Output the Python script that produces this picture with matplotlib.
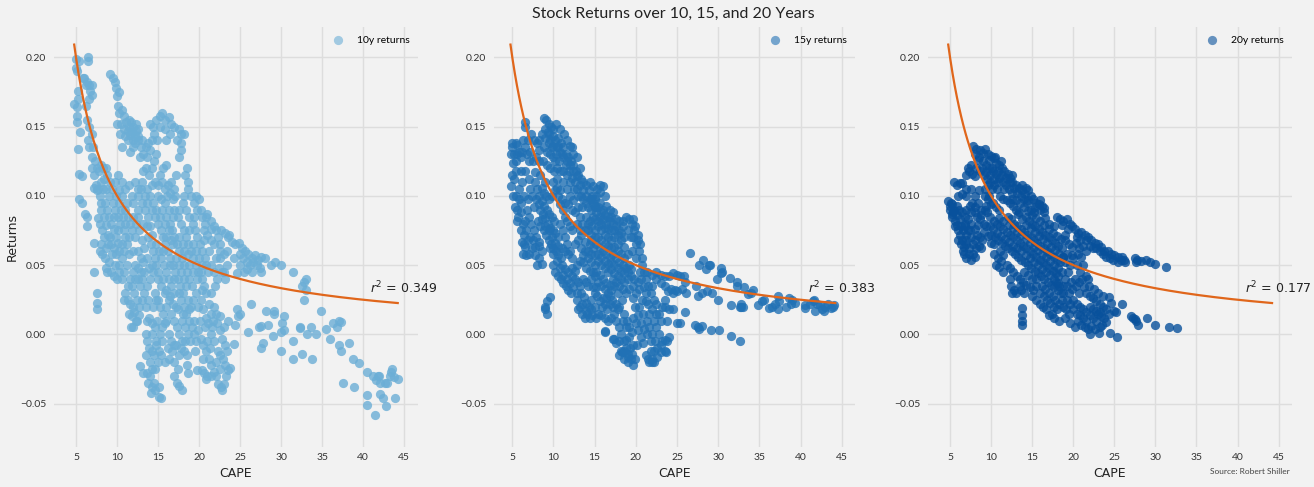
import matplotlib
matplotlib.use("Agg")
import matplotlib.pyplot as plt
import numpy as np

# ---------------- data ----------------
pts_10y = [
 (5.0,0.199),(5.0,0.192),(5.1,0.19),(5.4,0.197),(4.8,0.166),(5.1,0.164),(5.2,0.176),(5.1,0.158),(5.1,0.153),(5.3,0.17),
 (5.5,0.146),(5.3,0.134),(5.4,0.116),(5.7,0.114),(5.4,0.098),(5.7,0.095),(6.1,0.087),(6.3,0.085),(6.4,0.078),
 (6.5,0.2),(6.5,0.197),(6.0,0.185),(6.3,0.182),(6.6,0.18),(6.9,0.18),(7.0,0.173),(6.6,0.17),(6.2,0.165),(6.4,0.155),
 (6.6,0.15),(6.5,0.14),(6.6,0.135),(7.1,0.135),(6.9,0.145),(5.9,0.185),(6.2,0.18),(6.7,0.176),
 (7.3,0.125),(7.5,0.12),(7.2,0.115),(7.8,0.118),(8.0,0.122),(8.3,0.12),(8.6,0.12),(7.4,0.108),(7.6,0.104),(7.2,0.106),
 (8.0,0.11),(8.4,0.112),(8.8,0.115),(9.2,0.11),(7.9,0.1),(8.1,0.095),(8.3,0.105),(8.6,0.105),(9.0,0.1),(9.4,0.105),
 (9.8,0.11),(10.1,0.115),(10.6,0.11),(10.2,0.104),(10.6,0.1),(11.0,0.105),(11.5,0.108),(11.2,0.095),(9.5,0.095),
 (9.8,0.09),(10.1,0.085),(10.5,0.09),(11.8,0.1),(12.2,0.11),(12.5,0.105),
 (7.2,0.066),(7.2,0.045),(7.5,0.030),(7.5,0.023),(7.5,0.018),(7.7,0.084),(7.9,0.08),(8.2,0.075),(8.4,0.07),(8.1,0.065),
 (7.9,0.06),(8.2,0.058),(8.6,0.062),(8.9,0.065),(9.2,0.07),(8.5,0.055),(8.7,0.048),(8.8,0.045),(9.0,0.052),(9.4,0.058),
 (9.6,0.062),(9.9,0.07),(9.3,0.045),(9.6,0.042),(10.0,0.04),(10.3,0.05),(10.6,0.055),(10.9,0.06),(11.2,0.065),(11.5,0.07),
 (10.1,0.075),(10.4,0.08),(10.7,0.085),(11.0,0.08),(9.0,0.085),(9.3,0.08),(8.8,0.09),(8.5,0.095),(8.4,0.085),
 (10.6,0.04),(10.9,0.045),(11.2,0.05),(11.0,0.03),(10.8,0.025),(11.3,0.035),(11.6,0.04),(11.9,0.045),(12.2,0.05),
 (12.5,0.04),(12.8,0.035),(13.1,0.04),(11.5,0.015),(11.8,0.013),(12.1,0.016),(12.4,0.01),(11.7,0.005),(12.0,0.005),
 (12.3,0.01),(12.7,0.014),(12.1,0.03),(12.4,0.025),(12.7,0.02),(13.0,0.025),(13.3,0.03),(13.5,0.02),(13.8,0.025),
 (13.3,0.045),(12.9,0.055),(12.5,0.06),(12.2,0.07),(11.8,0.075),(11.9,0.06),(11.4,0.058),(12.0,0.085),(12.3,0.08),
 (12.7,0.075),(13.0,0.068),(13.3,0.062),
 (13.5,0.0),(13.7,-0.005),(13.9,-0.01),(14.2,-0.012),(14.5,-0.015),(14.8,-0.008),(15.1,-0.012),(15.4,-0.015),
 (14.0,-0.02),(14.3,-0.025),(14.0,-0.03),(13.7,-0.028),(13.2,-0.028),(12.8,-0.023),(14.5,-0.035),(14.2,-0.038),
 (14.6,-0.04),(15.1,-0.038),(14.1,-0.042),(15.1,-0.045),(15.3,-0.046),(13.6,0.01),(13.9,0.012),(14.2,0.008),
 (14.6,0.005),(14.9,0.01),(15.2,0.0),(15.5,0.005),(15.8,0.008),(14.4,0.02),(14.8,0.025),(15.2,0.02),(15.6,0.015),
 (16.0,0.02),(16.3,0.025),(16.0,0.01),(16.3,0.0),(16.6,-0.005),(15.9,-0.02),(16.3,-0.018),(16.7,-0.012),(17.0,-0.02),
 (17.4,-0.025),(17.0,-0.03),(17.3,-0.035),(17.6,-0.037),(17.9,-0.04),(17.8,-0.01),(18.2,-0.012),(18.5,-0.015),
 (18.5,-0.022),(18.6,-0.028),(17.5,-0.015),(16.9,-0.008),
 (9.1,0.188),(9.5,0.185),(9.7,0.182),(9.9,0.178),(10.0,0.172),(10.2,0.175),(10.1,0.165),(10.3,0.16),(10.6,0.162),
 (10.8,0.158),(10.5,0.152),(10.0,0.152),(10.8,0.148),(11.1,0.153),(11.4,0.15),(11.7,0.153),(12.0,0.15),(12.3,0.147),
 (11.0,0.143),(11.3,0.14),(11.6,0.144),(11.9,0.14),(12.2,0.138),(12.5,0.14),(12.0,0.135),(11.6,0.132),(12.6,0.148),
 (11.5,0.155),(11.3,0.147),(12.3,0.152),(12.5,0.143),(11.8,0.146),(12.2,0.143),
 (12.8,0.128),(13.2,0.13),(13.5,0.135),(13.8,0.138),(14.2,0.14),(14.5,0.145),(14.0,0.152),(14.4,0.15),(14.8,0.155),
 (15.2,0.158),(15.5,0.16),(15.9,0.155),(16.3,0.157),(15.8,0.148),(16.6,0.152),(17.0,0.15),(17.5,0.148),(17.8,0.145),
 (18.1,0.145),(17.8,0.138),(17.8,0.133),(17.6,0.128),(14.8,0.13),(14.5,0.125),(14.2,0.12),(13.9,0.115),(13.5,0.12),
 (13.2,0.118),(13.0,0.11),(13.6,0.105),(14.0,0.1),(14.4,0.095),(14.8,0.09),(15.2,0.115),(15.6,0.12),(16.0,0.122),
 (15.5,0.11),(15.8,0.105),(16.2,0.108),(16.5,0.102),(16.8,0.098),(17.1,0.1),(15.4,0.098),(15.0,0.1),(15.9,0.095),
 (16.3,0.09),
 (14.6,0.085),(15.0,0.08),(15.3,0.075),(15.6,0.07),(15.9,0.065),(16.2,0.06),(16.5,0.055),(16.8,0.05),(17.1,0.045),
 (17.4,0.04),(17.7,0.035),(18.0,0.03),(16.0,0.085),(16.4,0.08),(16.7,0.075),(17.0,0.07),(17.3,0.065),(17.6,0.06),
 (17.9,0.055),(18.2,0.05),(18.5,0.045),(18.8,0.04),(19.1,0.035),(17.0,0.09),(17.4,0.085),(17.8,0.08),(18.1,0.075),
 (18.4,0.07),(18.7,0.065),(19.0,0.06),(19.3,0.055),(19.6,0.05),(19.9,0.045),(18.0,0.095),(18.4,0.09),(18.8,0.085),
 (19.2,0.08),(19.5,0.075),(19.8,0.07),(20.1,0.065),(20.4,0.06),(20.7,0.055),(14.8,0.065),(15.1,0.06),(15.4,0.055),
 (15.7,0.05),(16.0,0.045),(16.3,0.04),(16.6,0.035),(14.4,0.06),(14.1,0.065),(13.8,0.07),(14.0,0.078),(14.3,0.072),
 (15.5,0.09),(16.1,0.1),(16.6,0.11),(16.9,0.105),(17.2,0.115),(18.5,0.12),(18.3,0.115),(18.7,0.11),(19.0,0.1),
 (19.4,0.095),(19.7,0.09),(20.0,0.098),(20.3,0.085),(20.7,0.08),(21.0,0.087),(21.4,0.082),(20.6,0.075),(21.0,0.072),
 (21.4,0.068),(21.2,0.06),(20.8,0.05),(21.1,0.045),(21.4,0.05),(20.3,0.04),(20.6,0.035),(20.9,0.03),(19.6,0.03),
 (19.3,0.025),(19.0,0.02),(18.7,0.025),(18.4,0.015),(18.1,0.02),(17.8,0.025),(17.5,0.03),(19.9,0.02),(20.2,0.025),
 (20.5,0.018),(20.8,0.012),(21.1,0.008),(21.5,0.015),(21.8,0.02),(21.5,0.03),(21.9,0.035),(22.2,0.04),(21.8,0.045),
 (22.1,0.055),(22.5,0.06),(22.3,0.07),(22.7,0.075),(23.2,0.073),(23.5,0.07),(22.4,0.048),(22.8,0.045),(23.1,0.04),
 (23.4,0.05),
 (18.8,0.01),(19.1,0.005),(19.4,0.0),(19.6,-0.005),(19.9,0.003),(20.2,-0.003),(20.5,-0.008),(20.8,-0.012),(21.0,-0.005),
 (21.3,-0.01),(21.5,0.0),(21.8,-0.005),(21.2,-0.018),(21.5,-0.022),(21.8,-0.027),(22.1,-0.02),(22.3,-0.012),
 (22.6,-0.015),(22.9,-0.018),(23.2,-0.022),(23.5,-0.026),(23.8,-0.024),(22.0,-0.03),(22.3,-0.036),(22.7,-0.038),
 (23.0,-0.036),(22.8,-0.04),(21.0,-0.03),(20.6,-0.028),(20.3,-0.026),(19.8,-0.026),(20.9,-0.032),(22.2,0.008),
 (22.5,0.003),(22.8,-0.003),(23.1,-0.008),(23.4,-0.012),(24.2,-0.007),(22.0,0.015),(21.7,0.01),(23.5,0.01),(24.4,0.0065),
 (23.6,0.072),(24.0,0.067),(24.4,0.065),(24.8,0.066),(25.2,0.062),(25.6,0.06),(26.0,0.058),(26.4,0.055),(26.8,0.057),
 (27.2,0.054),(27.6,0.056),(28.0,0.055),(25.0,0.058),(25.4,0.055),(25.8,0.052),(26.2,0.05),(26.6,0.052),(27.0,0.05),
 (27.4,0.048),(25.0,0.05),(25.5,0.045),(24.6,0.044),(25.8,0.047),(26.5,0.045),(27.5,0.045),(28.8,0.05),(29.2,0.052),
 (30.0,0.05),(31.4,0.045),(23.0,0.045),(23.4,0.06),(24.2,0.055),(22.6,0.065),(22.0,0.075),(21.5,0.076),
 (24.6,0.018),(24.7,0.013),(25.0,0.015),(25.9,0.0015),(26.3,0.022),(27.3,0.005),(27.6,0.006),(28.1,0.017),(28.4,0.007),
 (29.1,0.017),(29.1,0.015),(30.1,0.008),(30.4,0.013),(30.4,0.003),(30.0,0.002),(27.8,-0.006),(27.6,-0.010),(29.0,-0.0015),
 (30.0,-0.012),(31.5,-0.005),(31.5,-0.018),(32.5,-0.014),(32.3,0.005),(32.3,0.0045),(32.8,0.025),(32.5,0.035),
 (32.8,0.038),(33.0,0.04),(33.0,0.032),(33.1,0.0),(33.6,0.005),(33.8,-0.018),(34.2,0.0),(34.8,0.017),(35.5,0.004),
 (35.9,-0.003),(36.3,0.008),(36.8,0.005),(37.0,0.01),(37.3,0.009),(37.0,-0.008),(37.3,-0.012),(37.5,-0.035),
 (38.3,-0.006),(38.7,-0.018),(38.9,-0.038),(39.5,-0.021),(40.5,-0.027),(40.5,-0.044),(40.4,-0.051),(41.2,-0.030),
 (41.4,-0.058),(41.6,-0.033),(41.9,-0.03),(42.0,-0.035),(42.1,-0.043),(42.4,-0.046),(42.7,-0.035),(42.8,-0.052),
 (42.9,-0.035),(43.2,-0.03),(43.4,-0.027),(43.5,-0.025),(43.8,-0.031),(43.9,-0.046),(44.2,-0.032),(41.8,-0.03),
 (11.0,0.09),(11.3,0.085),(11.6,0.08),(12.6,0.09),(13.0,0.095),(13.4,0.09),(13.8,0.085),(14.2,0.09),(12.5,0.1),
 (12.9,0.105),(13.4,0.1),(13.7,0.095),(10.6,0.065),(10.3,0.06),(11.0,0.07),(9.7,0.05),(9.3,0.065),(8.9,0.072),
 (9.6,0.076),(10.8,0.075),
 (13.6,0.035),(14.0,0.04),(14.4,0.045),(14.8,0.05),(15.0,0.04),(15.4,0.035),(15.8,0.03),(14.6,0.03),(15.0,0.025),
 (16.9,0.03),(17.2,0.02),(16.6,0.015),(17.0,0.01),(17.3,0.005),(17.6,0.0),(17.9,-0.005),(18.3,-0.005),(17.9,0.01),
 (18.3,0.005),(18.6,0.0),
]
pts_10y_more = [
 (15.2,0.085),(15.8,0.08),(16.3,0.075),(16.8,0.065),(17.2,0.055),(17.5,0.05),(16.0,0.07),(16.6,0.068),(15.6,0.06),
 (16.4,0.05),(17.0,0.04),(17.8,0.045),(18.1,0.04),(18.4,0.035),(18.8,0.05),(18.2,0.06),(18.6,0.058),(19.2,0.065),
 (19.6,0.06),(20.0,0.055),(20.4,0.05),(19.8,0.04),(20.2,0.045),(17.6,0.07),(18.0,0.065),(18.8,0.075),(19.4,0.085),
 (20.2,0.09),(20.8,0.085),(16.8,0.085),(17.6,0.09),(18.2,0.1),(18.6,0.105),(19.6,0.1),(20.6,0.068),(21.8,0.065),
 (21.8,0.078),(22.6,0.055),(23.0,0.058),(15.0,0.045),(15.6,0.04),(16.0,0.032),(16.4,0.028),(16.8,0.022),(17.4,0.018),
 (18.0,0.015),(18.8,0.018),(19.4,0.01),(19.2,0.045),(14.2,0.05),(14.6,0.055),(13.7,0.055),(13.9,0.048),(12.6,0.048),
 (12.2,0.04),(11.8,0.035),(11.3,0.025),(11.6,0.022),(12.0,0.02),(12.9,0.045),(13.2,0.052),(10.3,0.045),(9.9,0.058),
 (10.1,0.066),(8.6,0.079),(9.6,0.085),(10.3,0.095),(9.9,0.1),(12.0,0.095),(12.5,0.085),(13.2,0.08),(13.6,0.078),
 (15.0,0.108),(14.6,0.11),(14.2,0.108),(13.7,0.128),(14.0,0.133),(14.9,0.14),(15.2,0.15),(16.5,0.145),(17.3,0.14),
 (16.0,0.14),(13.1,0.14),(12.9,0.135),(10.6,0.135),(10.4,0.145),(8.0,0.09),(7.7,0.105),(7.0,0.12),(6.9,0.128),
 (14.2,0.0),(14.7,-0.005),(14.6,-0.025),(15.0,-0.02),(15.5,-0.005),(13.5,-0.015),(13.8,-0.035),(16.2,-0.01),
 (17.2,-0.008),(18.9,-0.005),(19.5,-0.012),(20.5,-0.018),(21.4,-0.03),(22.5,-0.025),(23.3,-0.03),(21.6,0.005),
 (22.5,0.013),(23.0,0.005),(20.7,0.005),(20.1,0.01),(21.2,0.022),(20.4,0.032),
]

pts_15y = [
 (4.8,0.13),(5.0,0.135),(5.0,0.138),(5.2,0.13),(5.4,0.138),(5.6,0.137),(5.5,0.125),(5.1,0.124),(5.8,0.132),(6.2,0.132),
 (6.5,0.135),(6.6,0.153),(6.6,0.15),(6.9,0.14),(7.3,0.145),(7.2,0.132),(6.8,0.13),(7.0,0.125),(5.0,0.115),(5.2,0.112),
 (4.9,0.107),(5.1,0.1),(5.5,0.1),(5.8,0.098),(6.0,0.095),(5.3,0.092),(5.6,0.09),(5.7,0.085),(5.6,0.082),(6.0,0.088),
 (6.3,0.08),(6.1,0.075),(6.5,0.082),(6.4,0.072),(6.2,0.067),(6.4,0.065),(6.6,0.063),(6.3,0.058),(6.7,0.057),(7.0,0.058),
 (7.2,0.07),(7.5,0.068),(7.7,0.063),(7.9,0.07),(8.3,0.067),(8.6,0.06),(8.2,0.064),(8.6,0.051),(8.0,0.05),
 (9.0,0.02),(9.2,0.024),(9.6,0.027),(9.0,0.018),(9.2,0.015),
 (8.8,0.156),(9.1,0.155),(9.4,0.152),(9.7,0.15),(10.0,0.148),(9.5,0.145),(9.9,0.143),(10.2,0.14),(10.6,0.142),
 (10.9,0.138),(11.2,0.135),(11.5,0.13),(11.8,0.128),(12.1,0.125),(12.4,0.122),(12.7,0.118),(13.0,0.115),(13.3,0.112),
 (13.6,0.11),(14.0,0.108),(14.3,0.104),(14.7,0.1),(15.0,0.098),(15.3,0.105),(15.6,0.103),(11.0,0.13),(10.7,0.125),
 (10.4,0.12),(10.1,0.118),(10.3,0.13),(9.8,0.135),(9.4,0.138),(9.0,0.142),(8.6,0.145),(8.3,0.14),(8.0,0.138),(8.2,0.133),
 (11.5,0.122),(11.9,0.118),(12.2,0.113),(12.6,0.11),(12.9,0.105),(13.3,0.1),(11.6,0.14),(12.0,0.136),(12.4,0.13),
 (12.8,0.128),(11.3,0.145),(10.8,0.148),(10.3,0.152),(11.2,0.11),(11.6,0.105),(12.0,0.1),(12.4,0.097),(13.5,0.092),
 (13.9,0.095),
 (7.8,0.11),(8.0,0.105),(7.9,0.098),(8.3,0.1),(8.6,0.096),(8.9,0.093),(9.2,0.09),(9.5,0.087),(9.8,0.085),(10.1,0.082),
 (8.4,0.09),(8.7,0.087),(9.0,0.084),(9.3,0.08),(9.6,0.077),(9.9,0.075),(10.2,0.073),(10.5,0.07),(8.1,0.082),(8.4,0.078),
 (8.8,0.075),(9.1,0.072),(9.4,0.068),(9.7,0.065),(10.0,0.062),(10.3,0.06),(10.6,0.057),(10.9,0.055),(9.1,0.1),(9.5,0.098),
 (9.8,0.1),(10.2,0.104),(10.5,0.1),(10.8,0.094),(11.1,0.09),(11.4,0.085),(11.7,0.082),(12.0,0.078),(12.3,0.075),
 (10.8,0.08),(11.1,0.075),(11.4,0.07),(11.7,0.065),(12.0,0.06),(12.3,0.055),(9.6,0.062),(9.9,0.058),(10.2,0.045),
 (10.5,0.042),(10.9,0.04),(11.2,0.037),(11.5,0.035),(11.8,0.032),(12.1,0.03),(11.0,0.05),(11.4,0.047),(11.8,0.045),
 (12.2,0.042),(12.6,0.04),(13.0,0.038),(12.8,0.05),(13.2,0.053),(13.6,0.057),(12.6,0.065),(13.0,0.068),(13.4,0.072),
 (13.8,0.075),
 (12.9,0.025),(13.2,0.02),(13.5,0.015),(13.8,0.012),(14.1,0.015),(14.4,0.012),(14.7,0.014),(13.4,0.03),(13.7,0.027),
 (14.0,0.023),(14.3,0.02),(14.6,0.025),(15.0,0.03),(15.3,0.028),(15.6,0.024),(15.9,0.02),(16.2,0.022),(16.5,0.018),
 (16.8,0.022),(17.1,0.025),(14.2,0.035),(14.6,0.04),(15.0,0.042),(15.4,0.038),(15.8,0.035),(16.2,0.033),(16.6,0.03),
 (17.0,0.032),(17.4,0.035),(17.8,0.03),(17.3,0.015),(17.6,0.01),(17.9,0.005),(18.2,0.0),(18.5,-0.005),(18.8,-0.01),
 (19.1,-0.014),(19.4,-0.018),(19.7,-0.022),(19.9,-0.018),(18.3,-0.013),(18.0,-0.005),(17.4,-0.003),(16.2,0.002),
 (18.6,0.015),(18.9,0.01),(19.2,0.005),(19.5,0.002),
 (14.0,0.085),(14.4,0.082),(14.8,0.085),(15.2,0.088),(15.6,0.085),(16.0,0.083),(16.4,0.08),(16.8,0.082),(17.2,0.08),
 (17.6,0.078),(18.0,0.075),(18.4,0.082),(18.8,0.085),(19.2,0.083),(19.5,0.08),(19.8,0.075),(14.2,0.075),(14.6,0.072),
 (15.0,0.075),(15.4,0.078),(15.8,0.075),(16.2,0.072),(16.6,0.07),(17.0,0.068),(17.4,0.07),(17.8,0.065),(18.2,0.068),
 (18.6,0.063),(14.4,0.065),(14.8,0.062),(15.2,0.065),(15.6,0.062),(16.0,0.06),(16.4,0.058),(16.8,0.056),(17.2,0.058),
 (17.6,0.055),(18.0,0.052),(18.4,0.05),(18.8,0.048),(19.2,0.05),(13.8,0.06),(14.2,0.055),(14.6,0.052),(15.0,0.05),
 (15.4,0.053),(15.8,0.05),(16.2,0.048),(16.6,0.045),(17.0,0.047),(17.4,0.044),(17.8,0.042),(18.2,0.04),(18.6,0.038),
 (19.0,0.04),(19.4,0.042),(19.8,0.04),(20.2,0.038),(14.8,0.095),(15.2,0.1),(15.6,0.095),(16.0,0.09),(16.4,0.093),
 (16.8,0.09),(17.2,0.088),(15.6,0.108),(16.0,0.107),(16.3,0.1),(14.5,0.09),(13.5,0.08),(13.2,0.085),(12.8,0.08),
 (19.6,0.083),(19.9,0.078),(20.2,0.072),(20.3,0.068),(20.5,0.065),(20.4,0.06),(20.7,0.055),(20.8,0.05),(21.0,0.045),
 (19.6,0.07),(20.0,0.065),(20.0,0.055),(19.5,0.06),(20.5,0.045),(21.2,0.04),(21.5,0.035),(21.8,0.03),(21.2,0.03),
 (20.8,0.025),(20.4,0.02),(20.9,0.015),(21.3,0.01),(21.6,0.005),(22.0,0.0),(22.3,-0.005),(22.6,-0.01),(21.8,-0.012),
 (21.5,-0.018),(21.9,-0.018),(22.2,-0.02),(23.0,-0.013),(23.5,-0.012),(23.2,-0.005),(23.8,-0.005),(24.0,-0.002),
 (22.8,0.0),(22.5,0.005),(22.2,0.01),(22.8,0.015),(23.2,0.02),(22.5,0.022),(23.5,0.02),(24.0,0.018),(24.5,0.018),
 (20.0,0.008),(20.3,0.003),(20.6,-0.002),(20.9,-0.006),(19.6,0.012),(23.5,0.025),(22.2,0.025),(21.5,0.022),
 (22.0,0.035),(22.5,0.04),(23.0,0.037),
 (22.5,0.045),(23.0,0.043),(23.5,0.042),(24.0,0.042),(24.5,0.044),(25.0,0.043),(25.4,0.042),(25.8,0.042),(24.3,0.033),
 (24.8,0.032),(25.0,0.031),(25.6,0.033),(26.0,0.038),(26.1,0.03),(26.6,0.059),(27.3,0.035),(27.6,0.028),(28.0,0.03),
 (27.7,0.05),(28.1,0.054),(28.5,0.047),(28.9,0.05),(29.0,0.05),(29.2,0.03),(28.6,0.031),(29.8,0.04),(30.0,0.025),
 (30.3,0.048),(30.3,0.044),(30.5,0.045),(31.4,0.041),(31.5,0.021),(32.3,0.038),(32.3,0.035),(32.6,0.02),(32.8,0.022),
 (32.8,0.02),(33.0,0.02),(33.1,0.034),(33.6,0.029),(34.0,0.03),(34.2,0.032),(34.8,0.021),(35.3,0.024),(35.6,0.025),
 (36.2,0.019),(36.5,0.02),(36.9,0.022),(37.2,0.028),(37.4,0.024),(37.3,0.018),(38.2,0.02),(38.6,0.026),(38.9,0.025),
 (38.8,0.022),(39.3,0.023),(40.5,0.021),(40.5,0.019),(41.1,0.022),(41.5,0.024),(41.6,0.025),(41.8,0.017),(42.0,0.022),
 (42.3,0.021),(42.6,0.018),(43.0,0.02),(43.3,0.022),(43.7,0.019),(43.9,0.02),(44.1,0.021),(42.8,0.017),
 (25.0,0.008),(25.3,0.008),(26.0,0.016),(27.2,0.0065),(27.5,0.005),(27.7,0.004),(28.0,0.006),(29.1,0.0035),
 (30.1,0.0035),(31.6,-0.0015),(32.6,-0.005),(16.3,0.0022),(17.2,-0.003),(17.6,-0.006),(18.2,-0.012),(18.0,-0.015),
 (18.5,-0.018),(19.0,-0.016),(21.2,-0.015),(21.6,-0.02),(22.0,-0.02),(23.7,-0.013),
]
pts_15y_more = [
 (14.2,0.08),(14.6,0.078),(15.0,0.083),(15.4,0.082),(15.8,0.08),(16.2,0.077),(16.6,0.076),(17.0,0.075),(17.4,0.075),
 (17.8,0.072),(18.2,0.073),(18.6,0.07),(19.0,0.075),(19.4,0.07),(14.6,0.068),(15.0,0.07),(15.4,0.07),(15.8,0.068),
 (16.2,0.065),(16.6,0.064),(17.0,0.062),(17.4,0.063),(17.8,0.06),(18.2,0.058),(18.6,0.055),(19.0,0.058),(14.2,0.06),
 (14.6,0.058),(15.0,0.057),(15.4,0.058),(15.8,0.056),(16.2,0.053),(16.6,0.051),(17.0,0.052),(17.4,0.05),(17.8,0.048),
 (18.2,0.046),(18.6,0.044),(19.0,0.045),(19.4,0.047),(13.6,0.052),(14.0,0.048),(14.4,0.046),(14.8,0.045),(15.2,0.045),
 (15.6,0.043),(16.0,0.04),(16.4,0.037),(16.8,0.036),(17.2,0.04),(17.6,0.038),(18.0,0.035),(18.4,0.033),(18.8,0.03),
 (19.2,0.033),(19.6,0.035),(20.0,0.03),(20.4,0.033),(20.6,0.04),(13.8,0.067),(13.4,0.062),(13.2,0.075),(14.2,0.092),
 (14.6,0.098),(15.0,0.092),(15.4,0.092),(15.8,0.088),(16.2,0.086),(16.6,0.085),(17.0,0.085),(17.6,0.083),(18.0,0.082),
 (18.4,0.078),
 (9.0,0.148),(9.3,0.146),(9.6,0.14),(10.0,0.136),(10.4,0.135),(10.8,0.132),(11.2,0.128),(11.6,0.125),(12.0,0.122),
 (12.4,0.118),(12.8,0.114),(13.2,0.108),(13.6,0.104),(14.0,0.1),(14.4,0.098),(13.2,0.12),(12.3,0.135),(10.6,0.136),
 (10.2,0.125),(9.9,0.128),(9.6,0.13),(9.2,0.132),(8.8,0.135),(8.7,0.125),(9.2,0.122),(9.6,0.12),(10.0,0.11),(10.4,0.112),
 (10.8,0.118),(11.2,0.118),(11.6,0.115),(12.0,0.11),(12.5,0.105),(10.4,0.106),(10.8,0.104),(11.0,0.098),(11.4,0.095),
 (11.8,0.094),(12.2,0.09),(12.6,0.088),(13.0,0.092),(13.0,0.1),(13.6,0.098),(14.4,0.11),(14.8,0.107),(15.1,0.093),
 (9.0,0.11),(8.6,0.106),(8.4,0.115),(8.9,0.102),
 (8.2,0.094),(8.6,0.083),(9.0,0.078),(9.4,0.075),(9.8,0.07),(10.2,0.066),(10.6,0.064),(11.0,0.062),(11.4,0.06),
 (11.8,0.058),(12.2,0.048),(12.6,0.046),(10.0,0.05),(10.4,0.053),(10.8,0.048),(11.2,0.043),(11.6,0.04),(12.0,0.037),
 (12.4,0.034),(12.8,0.03),(13.2,0.035),(13.6,0.04),(14.0,0.038),(7.6,0.075),(7.3,0.08),(7.0,0.085),(6.8,0.09),
 (6.9,0.098),(7.4,0.1),(7.6,0.092),(7.2,0.105),(5.8,0.105),(6.2,0.11),(6.0,0.118),(5.5,0.118),(6.5,0.118),(7.0,0.112),
 (6.4,0.1),(6.7,0.075),(6.9,0.068),(7.4,0.062),(7.8,0.057),(8.2,0.055),(5.6,0.13),(6.0,0.128),(6.3,0.14),(7.6,0.14),
 (7.9,0.128),(7.5,0.125),(7.7,0.117),(8.2,0.125),
 (13.0,0.018),(13.5,0.022),(14.0,0.017),(14.5,0.018),(15.0,0.02),(15.4,0.015),(15.8,0.014),(16.2,0.012),(16.6,0.01),
 (17.0,0.012),(15.2,0.012),(14.8,0.034),(15.2,0.034),(16.0,0.026),(16.4,0.026),(16.8,0.028),(17.2,0.02),(17.6,0.022),
 (18.0,0.02),(18.4,0.01),(18.8,0.005),(19.2,-0.002),(19.6,-0.008),(18.8,-0.004),(19.3,-0.01),(18.6,-0.012),(19.0,-0.02),
 (19.5,-0.014),(20.1,-0.008),(17.8,0.018),(18.3,0.025),(19.6,0.026),(19.9,0.02),(20.2,0.014),(20.6,0.008),(21.0,0.004),
 (21.4,0.0),(21.8,-0.005),(22.2,-0.012),(22.6,-0.016),(23.0,-0.008),(23.5,-0.004),(21.6,0.015),(22.0,0.018),(22.4,0.015),
 (21.2,0.024),(23.0,0.01),(23.8,0.01),(21.0,0.034),(21.4,0.045),(22.0,0.043),(23.5,0.035),(24.5,0.03),(23.9,0.031),
]

pts_20y = [
 (4.8,0.096),(5.1,0.095),(5.3,0.094),(5.0,0.09),(5.2,0.087),(5.5,0.09),(5.8,0.093),(6.1,0.09),(6.4,0.088),(5.3,0.085),
 (5.6,0.082),(5.9,0.079),(5.6,0.078),(6.0,0.075),(6.3,0.078),(6.6,0.075),(6.9,0.072),(6.2,0.072),(6.5,0.068),(6.3,0.065),
 (6.7,0.063),(6.6,0.06),(7.0,0.055),(7.3,0.058),(7.5,0.054),(7.8,0.058),(8.0,0.056),(8.2,0.062),(7.8,0.065),(7.6,0.07),
 (8.0,0.068),(8.3,0.072),(8.6,0.07),(8.9,0.068),(7.2,0.075),(7.5,0.08),(6.8,0.08),(7.0,0.09),(7.4,0.093),(7.7,0.095),
 (8.0,0.092),(8.4,0.095),(8.8,0.09),(9.2,0.09),(5.5,0.11),(5.8,0.108),(6.5,0.109),(6.9,0.1),(6.4,0.101),(7.0,0.115),
 (7.3,0.118),(7.7,0.116),(8.0,0.114),(7.2,0.12),(8.3,0.085),(8.7,0.083),(9.1,0.08),(9.4,0.078),(8.5,0.064),(8.8,0.062),
 (7.8,0.136),(8.2,0.134),(8.6,0.133),(9.0,0.131),(9.3,0.134),(9.6,0.13),(10.0,0.129),(10.3,0.127),(10.6,0.124),
 (11.0,0.122),(11.3,0.12),(11.6,0.118),(12.0,0.116),(12.3,0.113),(12.6,0.11),(13.0,0.108),(13.4,0.106),(13.8,0.104),
 (14.2,0.106),(14.5,0.104),(14.8,0.1),(15.1,0.098),(15.5,0.095),(15.8,0.094),(16.2,0.093),(16.5,0.091),(14.0,0.098),
 (14.4,0.095),(14.8,0.09),(15.2,0.088),(9.0,0.125),(9.4,0.122),(9.8,0.12),(10.2,0.118),(10.6,0.116),(11.0,0.113),
 (11.4,0.11),(11.8,0.108),(12.2,0.105),(8.7,0.118),(9.1,0.115),(9.5,0.112),(9.9,0.11),(10.3,0.108),(10.7,0.105),
 (11.1,0.1),(11.5,0.098),(11.9,0.097),(12.3,0.095),(12.7,0.093),(8.5,0.128),(10.1,0.12),(10.8,0.11),(9.3,0.105),
 (9.8,0.1),(10.2,0.095),(10.6,0.092),(11.0,0.09),(13.0,0.09),(13.4,0.088),
 (9.3,0.1),(9.6,0.098),(10.0,0.094),(9.5,0.088),(9.9,0.085),(10.3,0.082),(10.7,0.08),(11.1,0.078),(11.5,0.076),
 (11.9,0.074),(12.3,0.072),(12.7,0.07),(13.1,0.068),(13.5,0.066),(13.9,0.064),(14.3,0.062),(14.7,0.06),(15.1,0.058),
 (15.5,0.056),(15.9,0.054),(16.3,0.052),(16.7,0.05),(17.1,0.048),(17.5,0.046),(17.9,0.044),(10.5,0.07),(10.9,0.068),
 (11.3,0.066),(11.7,0.064),(12.1,0.062),(12.5,0.06),(12.9,0.058),(13.3,0.056),(13.7,0.054),(14.1,0.052),(14.5,0.05),
 (14.9,0.048),(15.3,0.046),(15.7,0.044),(16.1,0.042),(16.5,0.04),(16.9,0.038),(17.3,0.036),(17.7,0.034),(18.1,0.032),
 (18.5,0.03),(12.0,0.085),(12.4,0.083),(12.8,0.08),(13.2,0.078),(13.6,0.076),(14.0,0.074),(14.4,0.072),(14.8,0.07),
 (15.2,0.068),(15.6,0.066),(16.0,0.064),(16.4,0.062),(16.8,0.06),(17.2,0.058),(17.6,0.056),(18.0,0.054),(18.4,0.052),
 (14.2,0.085),(14.6,0.082),(15.0,0.08),(15.4,0.078),(15.8,0.076),(16.2,0.074),(16.6,0.072),(17.0,0.07),(17.4,0.068),
 (17.8,0.066),(18.2,0.064),(18.6,0.062),(10.4,0.058),(10.8,0.055),(11.2,0.053),(11.5,0.057),(10.6,0.05),(11.0,0.049),
 (11.9,0.05),(12.3,0.048),(12.7,0.045),(13.1,0.042),(13.5,0.04),(13.9,0.038),(14.3,0.036),(14.7,0.034),(15.1,0.032),
 (15.5,0.035),(12.4,0.035),(12.8,0.032),(12.5,0.03),(13.0,0.03),(13.6,0.032),(13.8,0.019),(13.8,0.014),(13.8,0.01),
 (13.8,0.007),(15.5,0.04),(16.0,0.03),(16.4,0.028),(16.8,0.025),(17.2,0.023),(17.6,0.02),(18.0,0.018),(17.0,0.014),
 (17.4,0.015),(17.8,0.025),(18.3,0.022),(18.7,0.02),(19.1,0.018),(19.5,0.015),(19.0,0.012),(19.5,0.03),(19.9,0.033),
 (20.3,0.035),(20.7,0.038),(21.1,0.04),(21.5,0.042),(21.8,0.04),(20.0,0.025),(20.4,0.022),(20.8,0.02),(21.2,0.018),
 (21.6,0.016),(22.0,0.014),(22.4,0.012),(22.8,0.01),(20.6,0.01),(21.0,0.007),(21.4,0.005),(21.8,0.004),(22.2,0.006),
 (22.6,0.004),(23.1,0.001),(21.6,0.03),(22.0,0.028),(22.4,0.026),(22.8,0.024),(23.2,0.022),(23.6,0.02),(24.0,0.018),
 (23.0,0.015),(23.4,0.013),(23.8,0.012),(24.4,0.027),(24.6,0.023),(25.2,0.016),(25.0,0.017),(25.9,0.022),(24.5,0.001),
 (25.3,-0.002),(19.0,0.04),(19.4,0.045),(18.6,0.045),(18.2,0.042),
 (18.0,0.085),(18.4,0.083),(18.8,0.082),(19.2,0.083),(19.6,0.08),(19.9,0.078),(20.2,0.076),(20.6,0.073),(21.0,0.074),
 (21.4,0.072),(21.8,0.07),(22.2,0.068),(22.6,0.066),(23.0,0.065),(23.4,0.063),(23.8,0.06),(24.2,0.06),(24.6,0.058),
 (25.0,0.057),(25.4,0.056),(25.8,0.054),(26.2,0.054),(24.5,0.055),(25.5,0.052),(27.5,0.055),(27.8,0.054),(28.3,0.053),
 (28.8,0.054),(29.3,0.052),(29.9,0.051),(31.3,0.049),(27.6,0.052),(19.5,0.065),(19.9,0.063),(20.3,0.066),(20.7,0.062),
 (19.3,0.058),(19.8,0.057),(20.0,0.055),(21.2,0.064),(17.6,0.078),(17.0,0.08),(16.6,0.084),
 (27.0,0.0135),(27.3,0.012),(27.5,0.011),(27.7,0.0095),(27.9,0.0065),(29.0,0.0115),(30.0,0.0065),(31.6,0.005),(32.6,0.0045),
]
pts_20y_more = [
 (10.2,0.076),(10.7,0.073),(11.2,0.071),(11.7,0.069),(12.2,0.067),(12.7,0.064),(13.2,0.062),(13.7,0.06),(14.2,0.057),
 (14.7,0.055),(15.2,0.052),(15.7,0.05),(16.2,0.047),(16.7,0.045),(17.2,0.043),(17.7,0.04),(18.2,0.037),(18.7,0.035),
 (11.0,0.084),(11.5,0.082),(12.2,0.079),(12.7,0.077),(13.2,0.074),(13.7,0.072),(14.2,0.069),(14.7,0.066),(15.2,0.063),
 (15.7,0.061),(16.2,0.058),(16.7,0.056),(17.2,0.053),(17.7,0.05),(18.2,0.048),(18.7,0.056),(19.0,0.052),
 (13.3,0.087),(13.8,0.083),(14.3,0.079),(14.8,0.077),(15.3,0.074),(15.8,0.071),(16.3,0.069),(16.8,0.066),(17.3,0.063),
 (17.8,0.061),(18.3,0.058),(18.8,0.056),
 (12.5,0.098),(13.0,0.097),(13.5,0.095),(14.0,0.092),(14.5,0.089),(15.0,0.086),(15.5,0.084),(16.0,0.082),(16.5,0.079),
 (17.0,0.076),(17.5,0.073),(18.0,0.071),(18.5,0.069),(19.0,0.068),
 (8.0,0.13),(8.4,0.126),(8.9,0.12),(9.4,0.117),(9.9,0.115),(10.4,0.112),(10.9,0.118),(11.3,0.115),(11.8,0.113),
 (12.3,0.11),(12.8,0.106),(13.2,0.102),(13.6,0.1),(14.1,0.101),(15.3,0.092),(15.9,0.09),(16.4,0.088),(16.0,0.097),
 (12.6,0.102),(11.6,0.105),(10.1,0.105),(9.6,0.108),(13.8,0.108),(14.5,0.097),(11.2,0.125),(10.5,0.128),(9.8,0.126),
 (12.6,0.115),
 (13.5,0.035),(14.0,0.045),(14.5,0.043),(15.0,0.04),(15.0,0.028),(15.5,0.025),(15.9,0.022),(16.3,0.02),(16.7,0.018),
 (17.1,0.03),(17.5,0.028),(17.9,0.038),(18.3,0.035),(18.8,0.03),(19.2,0.025),(19.6,0.022),(20.0,0.018),(20.4,0.015),
 (20.8,0.014),(21.2,0.012),(21.6,0.01),(22.0,0.02),(22.4,0.018),(22.8,0.017),(23.2,0.016),(23.6,0.028),(23.0,0.03),
 (22.5,0.033),(21.9,0.035),(21.3,0.034),(20.7,0.03),(20.2,0.04),(19.7,0.038),(19.2,0.035),(18.6,0.025),(17.7,0.012),
 (18.3,0.01),(19.6,0.008),(20.2,0.005),(22.0,0.0),(23.5,0.007),(24.0,0.009),(24.4,0.015),(23.3,0.005),(16.2,0.035),
 (16.6,0.033),(14.0,0.03),(12.3,0.04),(11.5,0.045),(11.1,0.06),(10.3,0.065),(10.0,0.072),
 (5.0,0.093),(5.4,0.088),(5.8,0.086),(6.2,0.083),(6.8,0.085),(7.2,0.083),(7.6,0.088),(8.1,0.088),(8.8,0.086),
 (9.4,0.093),(7.0,0.065),(7.3,0.062),(7.0,0.068),(6.8,0.078),(7.4,0.075),(8.0,0.076),(8.4,0.079),(9.1,0.074),
 (9.6,0.071),(10.0,0.066),(9.9,0.078),(6.0,0.1),(6.2,0.109),(7.6,0.105),(8.1,0.1),(8.5,0.104),(7.0,0.105),(7.6,0.122),
 (8.2,0.12),(6.0,0.068),(6.7,0.058),
 (18.6,0.079),(19.4,0.076),(19.0,0.072),(20.4,0.07),(20.8,0.068),(21.5,0.068),(22.0,0.064),(22.4,0.062),(21.6,0.06),
 (20.6,0.058),(21.0,0.056),(22.8,0.062),(23.2,0.06),(23.6,0.058),(24.0,0.056),(24.9,0.054),(25.9,0.056),(26.3,0.052),
 (19.6,0.05),(20.4,0.05),(21.2,0.05),(20.8,0.045),
]

series_labels = ["10y returns", "15y returns", "20y returns"]
r_squared = [0.349, 0.383, 0.177]
cape_range = [4.78, 44.2]          # span of the earnings-yield curve 1/CAPE
x_ticks = [5, 10, 15, 20, 25, 30, 35, 40, 45]
y_ticks = [-0.05, 0.00, 0.05, 0.10, 0.15, 0.20]

# ---------------- style ----------------
BG = "#f2f2f2"
GRID = "#dddddd"
COLORS = ["#6baed6", "#2171b5", "#08519c"]
LINE = "#e0661b"
NARROW = ["Lato", "DejaVu Sans"]

fig = plt.figure(figsize=(13.14, 4.87), dpi=100, facecolor=BG)

W, H = 1314.0, 487.0
boxes = [(54, 418), (494, 855), (928, 1292)]
xlims = [(2.32, 46.67), (2.78, 46.6), (2.32, 46.63)]
top_px, bot_px = 27, 447

curve_x = np.linspace(cape_range[0], cape_range[1], 300)
curve_y = 1.0 / curve_x

all_pts = [pts_10y + pts_10y_more, pts_15y + pts_15y_more, pts_20y + pts_20y_more]

for i, pts in enumerate(all_pts):
    l, r = boxes[i]
    ax = fig.add_axes([l / W, 1 - bot_px / H, (r - l) / W, (bot_px - top_px) / H])
    ax.set_facecolor(BG)
    for s in ax.spines.values():
        s.set_visible(False)
    ax.grid(True, color=GRID, linewidth=1.0)
    ax.set_axisbelow(True)
    xs = [p[0] for p in pts]
    ys = [p[1] for p in pts]
    ax.scatter(xs, ys, s=44, color=COLORS[i], alpha=0.8, linewidths=0,
               label=series_labels[i], zorder=2)
    ax.plot(curve_x, curve_y, color=LINE, linewidth=1.6, zorder=3)
    ax.text(40.85, 0.0295, r"$r^2$ = %.3f" % r_squared[i],
            fontsize=9, color="#222222", va="baseline", ha="left", zorder=4)
    ax.set_xlim(*xlims[i])
    ax.set_ylim(-0.0813, 0.2219)
    ax.set_xticks(x_ticks)
    ax.set_yticks(y_ticks)
    ax.tick_params(length=0, labelsize=7.5, colors="#333333", pad=4)
    ax.tick_params(axis="y", pad=5.5)
    for lab in ax.get_xticklabels() + ax.get_yticklabels():
        lab.set_family(NARROW)
    ax.set_xlabel("CAPE", fontsize=9, color="#222222", labelpad=4)
    if i == 0:
        ax.set_ylabel("Returns", fontsize=9, color="#222222")
        ax.yaxis.set_label_coords(-0.097, 0.5)
    leg = ax.legend(loc="upper right", frameon=False, prop={"family": NARROW, "size": 7.5},
                    handletextpad=0.8, borderaxespad=0.4, markerscale=1.0)
    for h in leg.legend_handles:
        h.set_alpha(0.6)

fig.text(673 / W, 1 - 14 / H, "Stock Returns over 10, 15, and 20 Years",
         ha="center", va="center", fontsize=11.5, family=NARROW, color="#222222")
fig.text(1290 / W, 1 - 472 / H, "Source: Robert Shiller", ha="right", va="center",
         fontsize=6, family=NARROW, color="#444444")

fig.savefig("out.png", dpi=100, facecolor=BG)
